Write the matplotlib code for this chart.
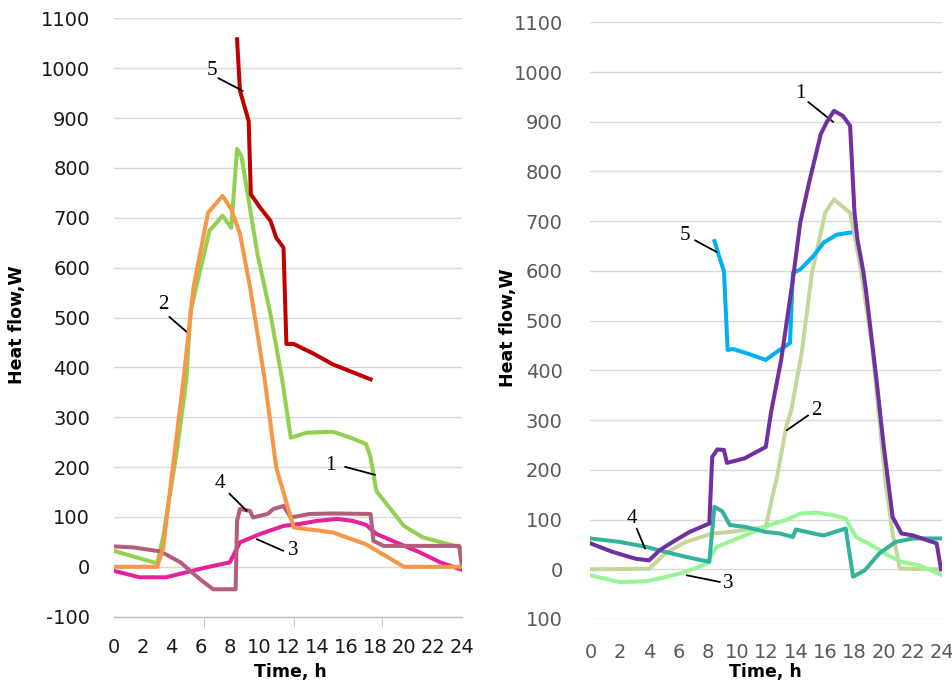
import matplotlib
matplotlib.use("Agg")
import matplotlib.pyplot as plt

# ---------------- data: left chart ----------------
L1_t = [0, 3.0, 3.4, 4.35, 5.0, 5.3, 6.6, 7.5, 8.1, 8.5, 8.8, 9.9, 10.8, 11.6, 12.2, 13.3, 15.1, 16.5, 17.4, 17.7, 18.1, 18.8, 20.0, 21.3, 23.9]
L1_v = [32, 7, 59, 232, 373, 513, 674, 704, 680, 838, 824, 628, 507, 377, 259, 269, 271, 257, 246, 219, 152, 126, 82, 59, 39]

L2_t = [0, 3.0, 3.4, 4.8, 5.5, 6.5, 7.5, 8.1, 8.7, 9.4, 10.4, 11.2, 12.4, 15.1, 17.4, 20.0, 24]
L2_v = [0, 0, 37, 373, 560, 710, 744, 717, 668, 560, 377, 199, 79, 69, 45, 0, 0]

L3_t = [0, 1.8, 3.6, 5.0, 6.4, 8.0, 8.7, 10.1, 11.7, 12.8, 14.0, 15.4, 16.5, 17.4, 18.1, 19.7, 21.1, 22.5, 23.9]
L3_v = [-8, -21, -21, -11, -1, 9, 49, 66, 82, 86, 92, 96, 92, 84, 66, 46, 29, 9, -5]

L4_t = [0, 1.35, 3.2, 3.6, 4.6, 5.95, 6.85, 8.4, 8.5, 8.7, 9.4, 9.6, 10.6, 11.0, 11.7, 12.2, 13.5, 15.1, 17.7, 17.9, 18.6, 20.9, 23.8, 24]
L4_v = [41, 39, 31, 25, 9, -25, -45, -45, 92, 116, 112, 99, 106, 116, 122, 99, 106, 107, 106, 52, 42, 42, 42, 0]

L5_t = [8.5, 8.7, 9.3, 9.45, 10.1, 10.8, 11.2, 11.7, 11.9, 12.4, 13.8, 15.1, 17.7]
L5_v = [1058, 955, 894, 747, 720, 694, 660, 640, 447, 447, 427, 406, 376]

# ---------------- data: right chart ----------------
R1_t = [0, 1.5, 3.1, 4.0, 4.7, 5.6, 6.75, 8.1, 8.3, 8.65, 9.1, 9.3, 10.5, 11.95, 12.3, 13.0, 13.8, 14.3, 14.85, 15.7, 16.1, 16.6, 17.2, 17.7, 18.0, 18.2, 18.6, 18.8, 19.5, 20.0, 20.6, 21.2, 22.0, 23.6, 23.9]
R1_v = [52, 35, 21, 18, 38, 55, 75, 92, 226, 241, 240, 214, 223, 246, 314, 421, 583, 697, 771, 875, 899, 922, 912, 892, 717, 663, 599, 556, 381, 246, 105, 72, 68, 52, 0]

R2_t = [0, 4.0, 5.1, 6.5, 8.3, 9.5, 11.95, 12.4, 12.7, 13.35, 13.7, 14.4, 15.1, 16.0, 16.6, 17.7, 18.4, 19.2, 20.1, 20.6, 21.1, 24]
R2_v = [0, 1, 32, 55, 72, 75, 85, 146, 183, 287, 321, 435, 596, 717, 744, 717, 609, 448, 179, 72, 1, 0]

R3_t = [0, 2.0, 3.8, 5.1, 6.5, 7.9, 8.6, 9.7, 11.1, 12.2, 13.35, 14.3, 15.4, 16.5, 17.4, 18.1, 19.2, 20.3, 21.2, 22.4, 24]
R3_v = [-12, -26, -24, -16, -5, 11, 45, 58, 75, 89, 99, 112, 114, 109, 102, 65, 48, 28, 15, 8, -12]

R4_t = [0, 2.0, 3.8, 5.1, 6.5, 8.1, 8.45, 9.0, 9.5, 10.6, 11.95, 12.9, 13.8, 14.0, 15.2, 15.9, 17.4, 17.9, 18.7, 19.7, 20.8, 22.0, 24]
R4_v = [62, 55, 45, 35, 25, 15, 126, 116, 89, 85, 75, 72, 65, 80, 72, 68, 82, -15, -2, 32, 55, 62, 62]

R5_t = [8.45, 8.7, 9.1, 9.35, 9.7, 10.6, 11.95, 12.6, 13.6, 13.8, 14.3, 15.2, 15.9, 16.8, 17.7]
R5_v = [660, 636, 599, 441, 443, 435, 421, 435, 455, 596, 603, 630, 657, 673, 677]

x_ticks = list(range(0, 25, 2))
y_ticks = list(range(-100, 1101, 100))
y_labels_right = ["100" if v == -100 else str(v) for v in y_ticks]

# ---------------- figure ----------------
fig = plt.figure(figsize=(9.53, 6.83), dpi=100)
W, H = 953, 683

def axes_px(x0, x1, ytop, ybot):
    return fig.add_axes([x0 / W, 1 - ybot / H, (x1 - x0) / W, (ybot - ytop) / H])

axL = axes_px(113.7, 462.0, 18.3, 616.7)
axR = axes_px(590.5, 942.5, 22.3, 619.0)

LW = 2.9
axL.plot(L1_t, L1_v, color="#92D050", lw=LW, zorder=3)
axL.plot(L2_t, L2_v, color="#F79646", lw=LW, zorder=4)
axL.plot(L3_t, L3_v, color="#E8209E", lw=LW, zorder=3)
axL.plot(L4_t, L4_v, color="#B55E7C", lw=LW, zorder=3)
axL.plot(L5_t, L5_v, color="#C00000", lw=LW, zorder=3)

axR.plot(R2_t, R2_v, color="#C4D79B", lw=LW, zorder=3)
axR.plot(R3_t, R3_v, color="#99F595", lw=LW, zorder=3)
axR.plot(R4_t, R4_v, color="#33B39B", lw=LW, zorder=3)
axR.plot(R5_t, R5_v, color="#00B0F0", lw=LW, zorder=3)
axR.plot(R1_t, R1_v, color="#7030A0", lw=LW, zorder=4)

for ax, tick_col, ylabs in ((axL, "#1a1a1a", [str(v) for v in y_ticks]), (axR, "#595959", y_labels_right)):
    ax.set_xlim(0, 24)
    ax.set_ylim(-100, 1100)
    ax.set_yticks(y_ticks)
    ax.set_yticklabels(ylabs)
    ax.set_xticks(x_ticks)
    ax.set_xticklabels([str(v) for v in x_ticks])
    ax.grid(axis="y", color="#D9D9D9", lw=1.0)
    ax.set_axisbelow(True)
    for s in ("top", "right", "left"):
        ax.spines[s].set_visible(False)
    ax.tick_params(axis="y", length=0, pad=17, labelsize=14, labelcolor=tick_col)
    ax.tick_params(axis="x", length=0, pad=15, labelsize=14, labelcolor=tick_col)
    ax.set_xlabel("Time, h", fontsize=12.5, fontweight="bold", labelpad=2)

axL.spines["bottom"].set_color("#BFBFBF")
axL.spines["bottom"].set_linewidth(1.0)
axL.set_xticks([0, 6.2, 12.4, 18.5], minor=True)
axL.tick_params(axis="x", which="minor", length=8, color="#BFBFBF", direction="out")
axR.spines["bottom"].set_visible(False)
axR.tick_params(axis="x", pad=17)
axR.tick_params(axis="y", pad=20)

axL.set_ylabel("Heat flow,W", fontsize=12.5, fontweight="bold")
axR.set_ylabel("Heat flow,W", fontsize=12.5, fontweight="bold")
axL.yaxis.set_label_coords((26 - 113.7) / 348.3, (616.7 - 325) / 598.4)
axR.yaxis.set_label_coords((517 - 590.5) / 352.0, (619 - 328) / 596.7)
axL.xaxis.set_label_coords((290 - 113.7) / 348.3, (616.7 - 663) / 598.4)
axR.xaxis.set_label_coords((765 - 590.5) / 352.0, (619 - 663) / 596.7)

# ---------------- annotations ----------------
def note(ax, label, txy, p0, p1):
    ax.annotate("", xy=p1, xytext=p0,
                arrowprops=dict(arrowstyle="-", color="black", lw=1.3, shrinkA=0, shrinkB=0))
    ax.text(txy[0], txy[1], label, fontsize=15, ha="center", va="center",
            family="Liberation Serif", color="black")

def px2L(x, y):
    return ((x - 113.7) / 14.51, (566.0 - y) / 0.4987)

def px2R(x, y):
    return ((x - 590.5) / 14.667, (569.0 - y) / 0.4973)

note(axL, "5", px2L(211.7, 70), px2L(218.3, 77.3), px2L(242.7, 90))
note(axL, "2", px2L(163.3, 303.3), px2L(169.3, 316), px2L(189.3, 333.3))
note(axL, "4", px2L(220, 483), px2L(229.3, 492.7), px2L(246.7, 510))
note(axL, "3", px2L(293.3, 550), px2L(283.3, 550), px2L(256.7, 538.3))
note(axL, "1", px2L(330, 465), px2L(345, 466), px2L(375, 474))

note(axR, "1", px2R(800, 93.3), px2R(808.3, 101.7), px2R(833.3, 121.7))
note(axR, "5", px2R(685, 235), px2R(695, 240), px2R(716.7, 251.7))
note(axR, "2", px2R(816.7, 410), px2R(808.3, 415), px2R(786.7, 430))
note(axR, "4", px2R(631.7, 518.3), px2R(636.7, 528.3), px2R(645, 548.3))
note(axR, "3", px2R(728.3, 583.3), px2R(720, 581.7), px2R(686.7, 575))

fig.savefig("out.png", dpi=100)
